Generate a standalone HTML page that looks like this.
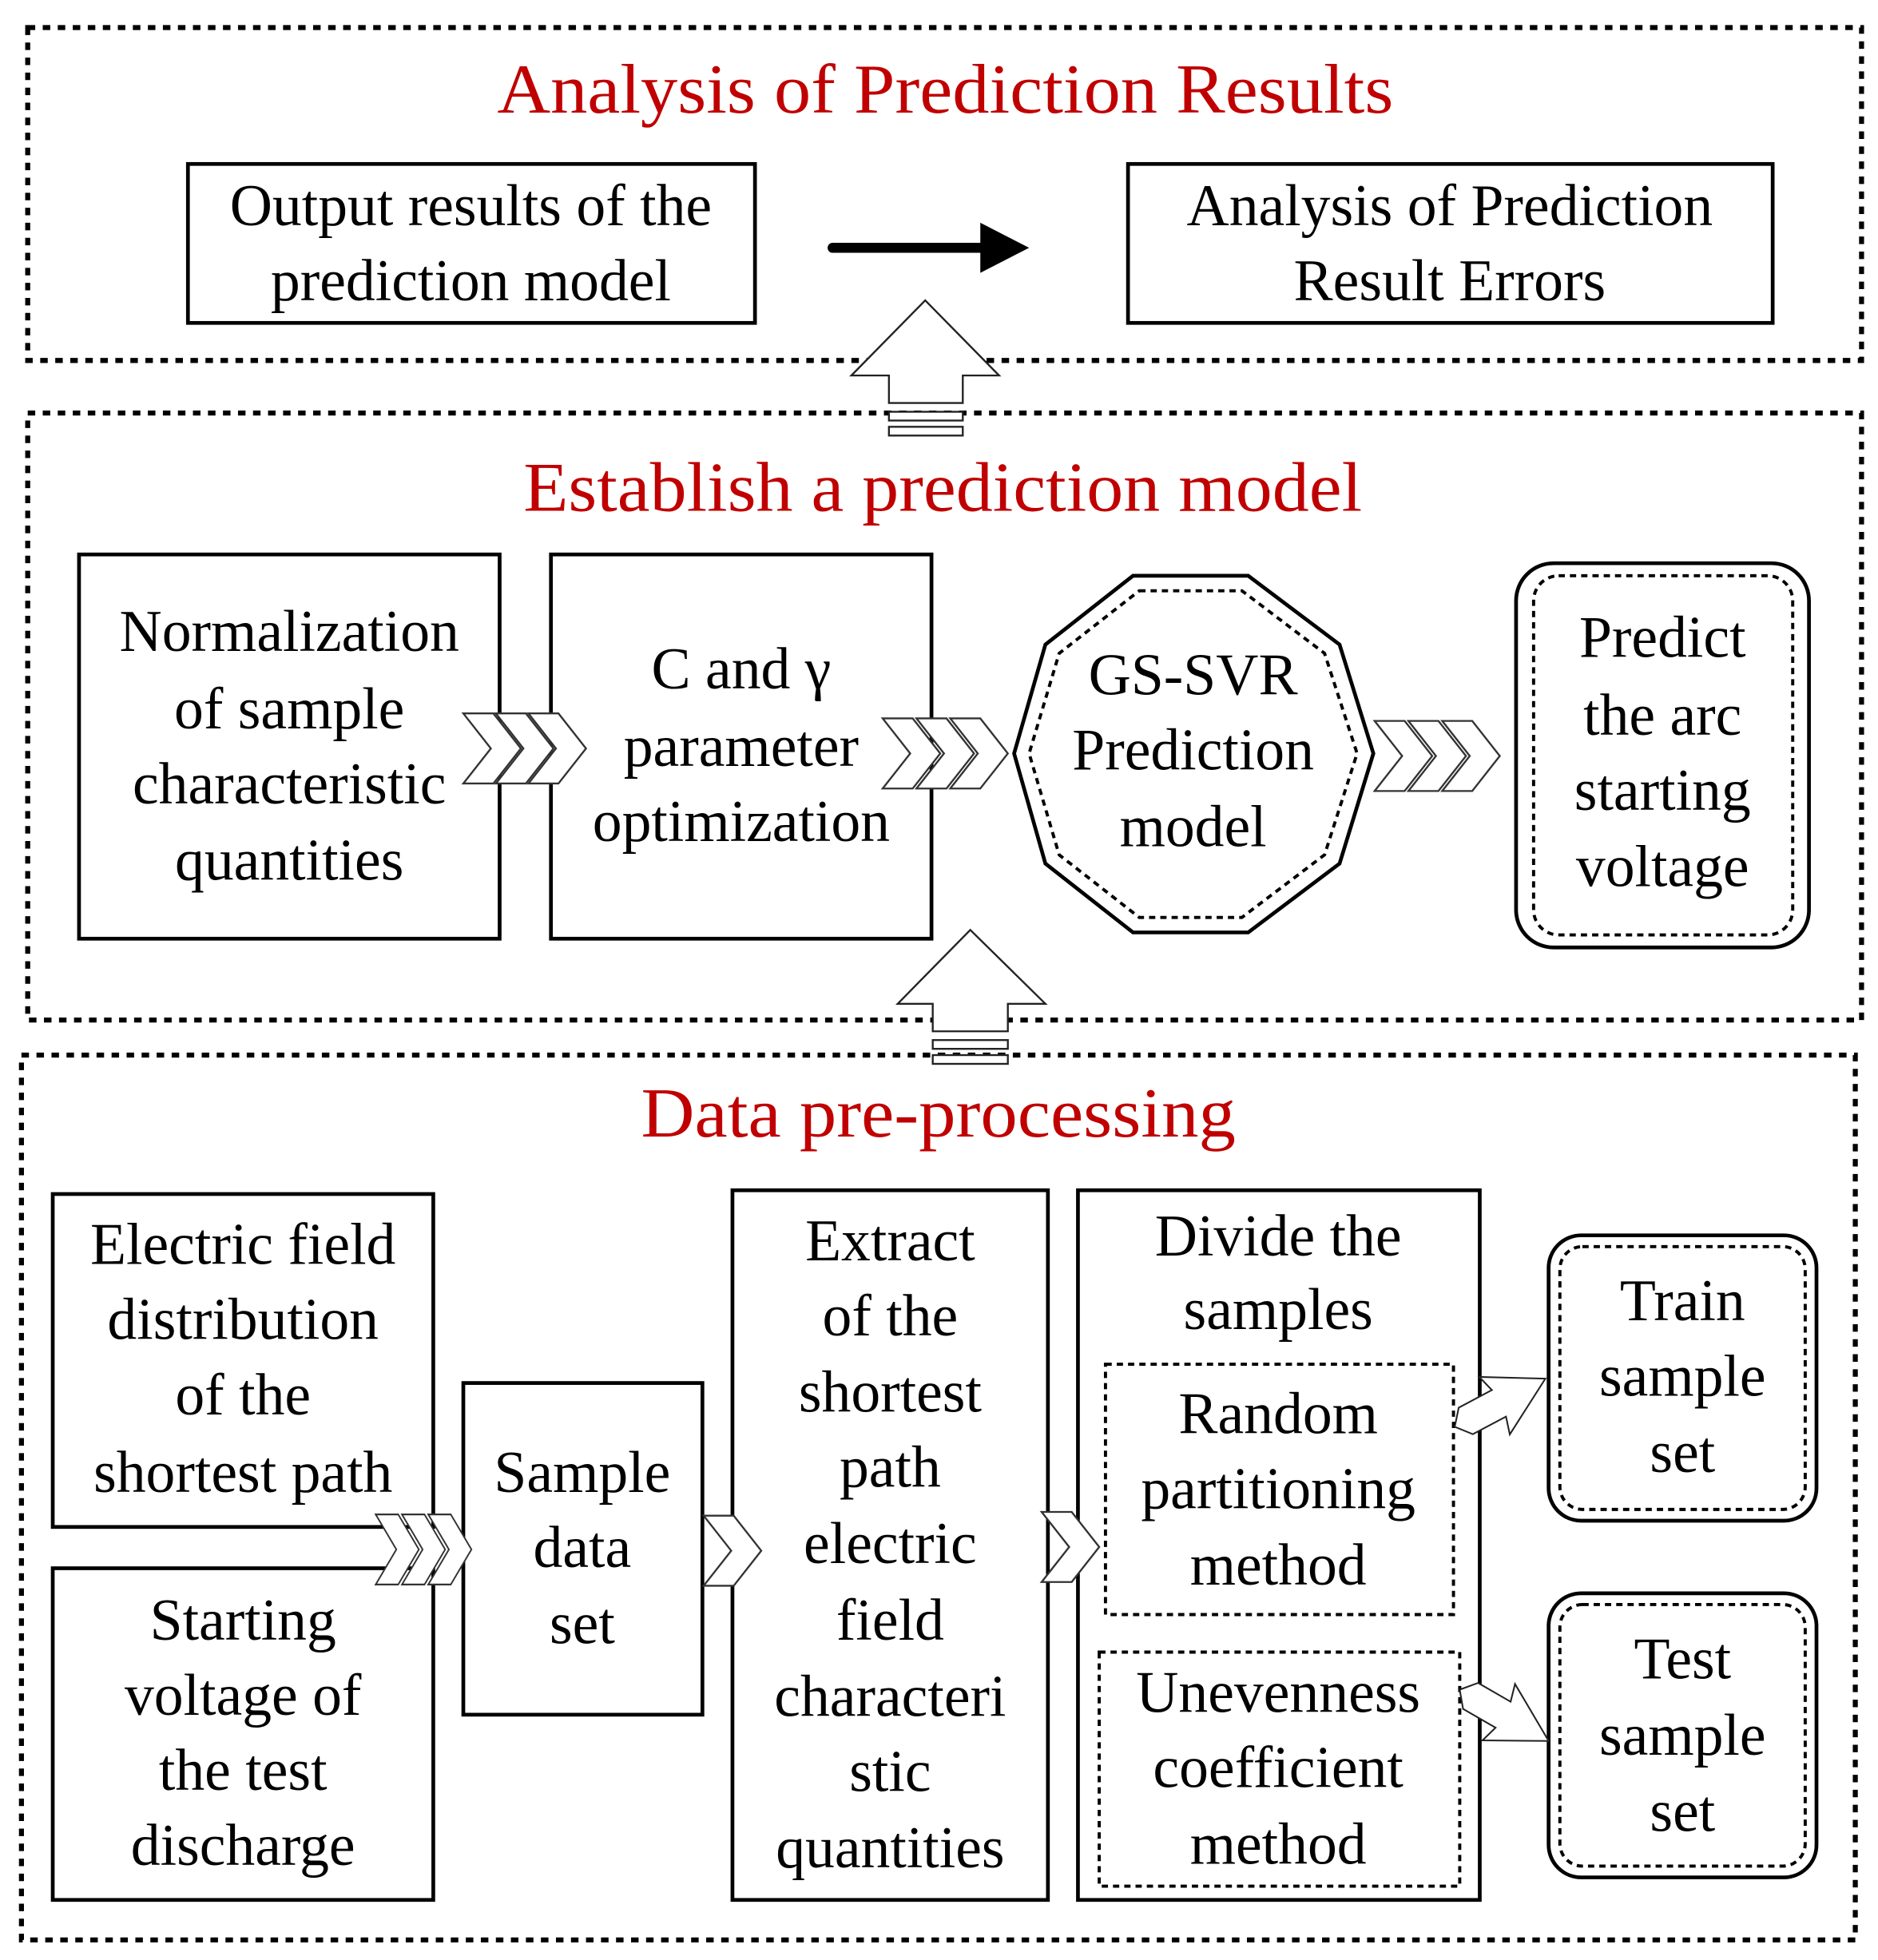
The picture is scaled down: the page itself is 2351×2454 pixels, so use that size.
<!DOCTYPE html>
<html><head><meta charset="utf-8"><style>html,body{margin:0;padding:0;background:#fff}svg{display:block}</style></head>
<body>
<svg width="2351" height="2454" viewBox="0 0 1500 1566" xmlns="http://www.w3.org/2000/svg" style="font-family:'Liberation Serif',serif">
<defs>
<g id="chev"><polygon points="0,0 24,0 46,28 24,56 0,56 22,28" fill="#fff" stroke="#333" stroke-width="1.5"/></g>
</defs>
<rect width="1500" height="1566" fill="#fff"/>
<g fill="none" stroke="#000" stroke-width="4" stroke-dasharray="6,6">
<rect x="22" y="22" width="1465" height="266"/>
<rect x="22" y="330" width="1465" height="485"/>
<rect x="17" y="843" width="1465" height="707"/>
</g>
<g fill="#c00000" font-size="56">
<text x="397" y="90" textLength="716" lengthAdjust="spacingAndGlyphs">Analysis of Prediction Results</text>
<text x="418" y="408" textLength="670" lengthAdjust="spacingAndGlyphs">Establish a prediction model</text>
<text x="512" y="908" textLength="475" lengthAdjust="spacingAndGlyphs">Data pre-processing</text>
</g>
<g fill="#fff" stroke="#000" stroke-width="3">
<rect x="150" y="131" width="453" height="127"/>
<rect x="901" y="131" width="515" height="127"/>
<rect x="63" y="443" width="336" height="307"/>
<rect x="440" y="443" width="304" height="307"/>
<polygon points="905,460 997,460 1070,515 1097,602 1070,690 997,745 905,745 835,690 810,602 835,515"/>
<rect x="1211" y="450" width="234" height="307" rx="30"/>
<rect x="42" y="954" width="304" height="266"/>
<rect x="42" y="1253" width="304" height="265"/>
<rect x="370" y="1105" width="191" height="265"/>
<rect x="585" y="951" width="252" height="567"/>
<rect x="861" y="951" width="321" height="567"/>
<rect x="1237" y="987" width="214" height="228" rx="26"/>
<rect x="1237" y="1273" width="214" height="227" rx="26"/>
</g>
<g fill="none" stroke="#000" stroke-width="2.5" stroke-dasharray="5,4">
<polygon points="910,472 992,472 1058,522 1084,602 1058,683 992,733 910,733 846,683 822,602 846,522"/>
<rect x="1225" y="460" width="207" height="287" rx="20"/>
<rect x="883" y="1090" width="278" height="200"/>
<rect x="878" y="1320" width="288" height="187"/>
<rect x="1246" y="996" width="196" height="210" rx="18"/>
<rect x="1246" y="1282" width="196" height="209" rx="18"/>
</g>
<line x1="665" y1="198" x2="795" y2="198" stroke="#000" stroke-width="8" stroke-linecap="round"/>
<polygon points="783,178 822,198 783,218" fill="#000"/>
<g fill="#fff" stroke="#222" stroke-width="1.5">
<polygon points="739,240 798,300 769,300 769,322 710,322 710,300 680,300"/>
<rect x="710" y="329" width="59" height="7"/><rect x="710" y="341" width="59" height="7"/>
<polygon points="775,743 835,802 805,802 805,824 745,824 745,802 717,802"/>
<rect x="745" y="831" width="60" height="7"/><rect x="745" y="843" width="60" height="7"/>
</g>
<use href="#chev" x="370" y="570"/><use href="#chev" x="396" y="570"/><use href="#chev" x="422" y="570"/>
<use href="#chev" x="705" y="574"/><use href="#chev" x="732" y="574"/><use href="#chev" x="759" y="574"/>
<use href="#chev" x="1098" y="576"/><use href="#chev" x="1125" y="576"/><use href="#chev" x="1152" y="576"/>
<g transform="translate(300,1210) scale(0.75,1)"><use href="#chev" x="0" y="0"/><use href="#chev" x="28" y="0"/><use href="#chev" x="56" y="0"/></g>
<use href="#chev" x="562" y="1211"/>
<use href="#chev" x="832" y="1208"/>
<g fill="#fff" stroke="#222" stroke-width="1.3">
<polygon transform="translate(1162,1140) rotate(-28)" points="0,0 10,-12 40,-12 36,-26 82,0 36,26 40,12 10,12"/>
<polygon transform="translate(1166,1350) rotate(30)" points="0,0 10,-12 40,-12 36,-26 82,0 36,26 40,12 10,12"/>
</g>
<g fill="#000" font-size="47" text-anchor="middle">
<text x="376" y="180">Output results of the</text>
<text x="376" y="240">prediction model</text>
<text x="1158" y="180">Analysis of Prediction</text>
<text x="1158" y="240">Result Errors</text>
<text x="231" y="520">Normalization</text>
<text x="231" y="582">of sample</text>
<text x="231" y="642">characteristic</text>
<text x="231" y="703">quantities</text>
<text x="592" y="550">C and γ</text>
<text x="592" y="612">parameter</text>
<text x="592" y="672">optimization</text>
<text x="953" y="555">GS-SVR</text>
<text x="953" y="615">Prediction</text>
<text x="953" y="676">model</text>
<text x="1328" y="525">Predict</text>
<text x="1328" y="587">the arc</text>
<text x="1328" y="647">starting</text>
<text x="1328" y="708">voltage</text>
<text x="194" y="1010">Electric field</text>
<text x="194" y="1070">distribution</text>
<text x="194" y="1130">of the</text>
<text x="194" y="1192">shortest path</text>
<text x="194" y="1310">Starting</text>
<text x="194" y="1370">voltage of</text>
<text x="194" y="1430">the test</text>
<text x="194" y="1490">discharge</text>
<text x="465" y="1192">Sample</text>
<text x="465" y="1252">data</text>
<text x="465" y="1313">set</text>
<text x="711" y="1007">Extract</text>
<text x="711" y="1067">of the</text>
<text x="711" y="1128">shortest</text>
<text x="711" y="1188">path</text>
<text x="711" y="1249">electric</text>
<text x="711" y="1310">field</text>
<text x="711" y="1371">characteri</text>
<text x="711" y="1431">stic</text>
<text x="711" y="1492">quantities</text>
<text x="1021" y="1003">Divide the</text>
<text x="1021" y="1062">samples</text>
<text x="1021" y="1145">Random</text>
<text x="1021" y="1205">partitioning</text>
<text x="1021" y="1266">method</text>
<text x="1021" y="1368">Unevenness</text>
<text x="1021" y="1428">coefficient</text>
<text x="1021" y="1489">method</text>
<text x="1344" y="1055">Train</text>
<text x="1344" y="1115">sample</text>
<text x="1344" y="1176">set</text>
<text x="1344" y="1341">Test</text>
<text x="1344" y="1402">sample</text>
<text x="1344" y="1463">set</text>
</g>
</svg>
</body></html>
